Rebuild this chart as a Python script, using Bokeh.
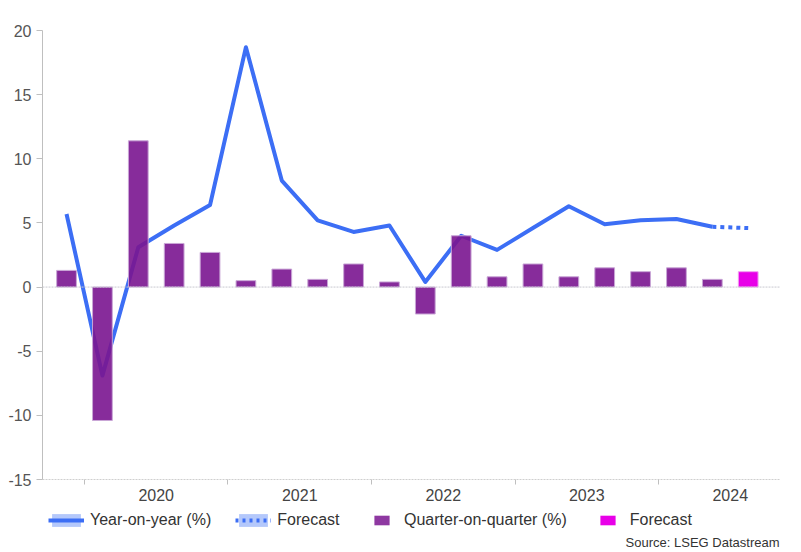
from bokeh.plotting import figure
from bokeh.layouts import column
from bokeh.models import (FixedTicker, Span, Legend, LegendItem, Range1d, Label)
from bokeh.embed import file_html
from bokeh.resources import INLINE

# ---- data ----
quarters = ["2019Q4", "2020Q1", "2020Q2", "2020Q3", "2020Q4",
            "2021Q1", "2021Q2", "2021Q3", "2021Q4",
            "2022Q1", "2022Q2", "2022Q3", "2022Q4",
            "2023Q1", "2023Q2", "2023Q3", "2023Q4",
            "2024Q1", "2024Q2", "2024Q3"]
qoq_actual = [1.3, -10.4, 11.4, 3.4, 2.7,
              0.5, 1.4, 0.6, 1.8,
              0.4, -2.1, 4.0, 0.8,
              1.8, 0.8, 1.5, 1.2,
              1.5, 0.6]
qoq_forecast = [1.2]
yoy_actual = [5.7, -6.9, 3.1, 4.8, 6.4,
              18.7, 8.3, 5.2, 4.3,
              4.8, 0.4, 4.0, 2.9,
              4.6, 6.3, 4.9, 5.2,
              5.3, 4.7]
yoy_forecast = [4.7, 4.6]
year_labels = ["2020", "2021", "2022", "2023", "2024"]
y_ticks = [-15, -10, -5, 0, 5, 10, 15, 20]

FONT = "Liberation Sans"
BLUE = "#3c6ef5"
LIGHT = "#b4c8fb"
BAR = "#7a1590"
BAR_LINE = "#c9a6d6"
FC = "#e800e8"
FC_LINE = "#f0a0f0"

n_act = len(qoq_actual)
x_all = list(range(len(quarters)))
x_act = x_all[:n_act]
x_fc_bar = x_all[n_act:]
x_fc_line = x_all[n_act - 1:]

# ---------------- main chart ----------------
p = figure(width=800, height=505, output_backend="svg",
           toolbar_location=None, x_range=Range1d(-0.67, 19.9),
           y_range=Range1d(-15, 20),
           min_border_left=42, min_border_top=30, min_border_right=20,
           min_border_bottom=26)
p.outline_line_color = None
p.xgrid.visible = False
p.ygrid.visible = False

p.line(x_act, yoy_actual, line_color=BLUE, line_width=4, line_join="round")
p.line(x_fc_line, yoy_forecast, line_color=BLUE, line_width=4, line_dash="4 4")
p.vbar(x=x_act, top=qoq_actual, bottom=0, width=0.55,
       fill_color=BAR, fill_alpha=0.9, line_color=BAR_LINE, line_width=1)
p.vbar(x=x_fc_bar, top=qoq_forecast, bottom=0, width=0.55,
       fill_color=FC, line_color=FC_LINE, line_width=1)

p.add_layout(Span(location=0, dimension="width", line_color="#c8c8d0",
                  line_width=1, line_dash="2 1"))

# y axis
p.yaxis.ticker = FixedTicker(ticks=y_ticks)
p.yaxis.major_label_overrides = {t: str(t) for t in y_ticks}
p.yaxis.axis_line_color = "#bfbfbf"
p.yaxis.major_tick_line_color = "#bfbfbf"
p.yaxis.major_tick_out = 6
p.yaxis.major_tick_in = 0
p.yaxis.minor_tick_line_color = None
p.yaxis.major_label_text_font = FONT
p.yaxis.major_label_text_font_size = "16px"
p.yaxis.major_label_text_color = "#555555"
p.yaxis.major_label_standoff = 5

# x axis
year_pos = [2.5 + 4 * i for i in range(len(year_labels))]
year_bounds = [0.5 + 4 * i for i in range(len(year_labels))]
p.xaxis.ticker = FixedTicker(ticks=year_pos, minor_ticks=year_bounds)
p.xaxis.major_label_overrides = {pos: lab for pos, lab in zip(year_pos, year_labels)}
p.xaxis.major_tick_out = 0
p.xaxis.major_tick_in = 0
p.xaxis.minor_tick_out = 5
p.xaxis.minor_tick_in = 0
p.xaxis.minor_tick_line_color = "#bfbfbf"
p.xaxis.axis_line_color = "#cfcfcf"
p.xaxis.axis_line_dash = "2 1"
p.xaxis.major_label_text_font = FONT
p.xaxis.major_label_text_font_size = "16px"
p.xaxis.major_label_text_color = "#444444"
p.xaxis.major_label_standoff = 4

# ---------------- legend / source strip ----------------
leg = figure(width=800, height=45, output_backend="svg", toolbar_location=None,
             x_range=Range1d(1000, 1001), y_range=Range1d(1000, 1001),
             x_axis_type=None, y_axis_type=None, min_border=0)
leg.outline_line_color = None
leg.xgrid.visible = False
leg.ygrid.visible = False

# series proxies (same data, outside this strip's view) used only for legend swatches
area_px = leg.varea(x=x_act, y1=yoy_actual, y2=yoy_actual, fill_color=LIGHT)
line_px = leg.line(x_act, yoy_actual, line_color=BLUE, line_width=4)
fcl_px = leg.line(x_fc_line, yoy_forecast, line_color=BLUE, line_width=4,
                  line_dash="3 4")
bar_px = leg.vbar(x=x_act, top=qoq_actual, width=0.55, fill_color=BAR,
                  fill_alpha=0.85, line_color=None)
fcb_px = leg.vbar(x=x_fc_bar, top=qoq_forecast, width=0.55, fill_color=FC,
                  line_color=None)


def style(lg):
    lg.orientation = "horizontal"
    lg.padding = 0
    lg.margin = 0
    lg.border_line_color = None
    lg.background_fill_alpha = 0
    lg.label_text_font = FONT
    lg.label_text_font_size = "16px"
    lg.label_text_color = "#333333"


# the strip's frame is aligned with the main chart's frame (starts 42px in)
leg_a = Legend(items=[
    LegendItem(label="Year-on-year (%)", renderers=[area_px, line_px]),
    LegendItem(label="Forecast", renderers=[area_px, fcl_px]),
], location=(6, 21))
style(leg_a)
leg_a.glyph_width = 36
leg_a.glyph_height = 16
leg_a.label_standoff = 6
leg_a.spacing = 24

leg_b = Legend(items=[
    LegendItem(label="Quarter-on-quarter (%)", renderers=[bar_px]),
    LegendItem(label="Forecast", renderers=[fcb_px]),
], location=(330, 21))
style(leg_b)
leg_b.glyph_width = 19
leg_b.glyph_height = 12
leg_b.label_standoff = 13
leg_b.spacing = 31

leg.add_layout(leg_a, "center")
leg.add_layout(leg_b, "center")

leg.add_layout(Label(x=737, y=8, x_units="screen", y_units="screen",
                     text="Source: LSEG Datastream", text_align="right",
                     text_baseline="middle", text_font=FONT,
                     text_font_size="13px", text_color="#333333"))

open("out.html", "w").write(file_html(column(p, leg), INLINE))
